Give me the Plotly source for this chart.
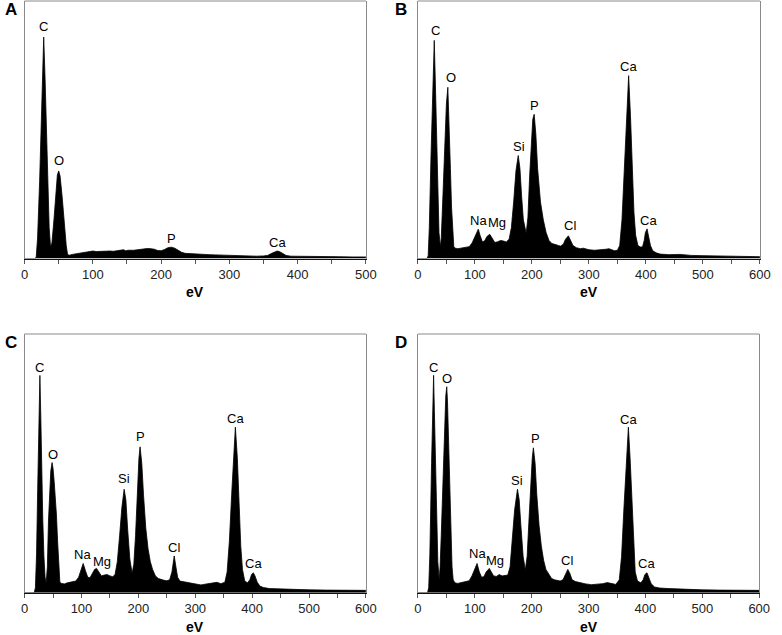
import plotly.graph_objects as go

# ---------------- data (eV, relative intensity in % of panel height) ----------------
a_ev = [0, 15, 17, 19, 22, 25, 28, 30, 32, 34, 36, 38, 40, 43, 46, 48, 50, 52, 55, 58, 61, 63,
        66, 70, 75, 80, 85, 90, 95, 100, 105, 110, 115, 120, 125, 130, 135, 140, 145, 148, 152,
        160, 165, 170, 175, 180, 185, 190, 195, 200, 205, 210, 215, 220, 225, 230, 235, 240,
        250, 260, 270, 280, 290, 300, 310, 320, 330, 340, 350, 356, 362, 366, 370, 374, 378,
        383, 390, 400, 410, 420, 440, 460, 480, 500]
a_int = [0, 0, 0.5, 8, 30, 60, 86, 70, 48, 28, 12, 4.5, 6, 15, 27, 32.5, 34, 32, 24, 14, 5, 1.5,
         1.3, 1.6, 1.8, 2.0, 2.2, 2.4, 2.6, 2.9, 2.7, 2.8, 2.7, 3.0, 2.9, 2.8, 3.0, 3.1, 3.4, 3.0, 3.2,
         3.2, 3.4, 3.6, 3.8, 3.9, 3.8, 3.6, 3.1, 3.0, 3.5, 4.2, 4.4, 4.0, 3.2, 2.4, 2.0, 1.9,
         1.8, 1.6, 1.5, 1.4, 1.3, 1.2, 1.1, 1.1, 1.0, 0.9, 1.0, 1.2, 2.0, 2.6, 2.9, 2.6, 2.0,
         1.2, 0.9, 0.9, 0.8, 0.8, 0.7, 0.7, 0.6, 0.6]

b_ev = [0, 16, 18, 20, 23, 26, 28.7, 31, 33, 35, 37, 39.5, 41, 44, 47, 50, 52.5, 55, 57, 59, 61, 63,
        66, 70, 75, 80, 85, 90, 95, 100, 103, 106, 109, 113, 117, 121, 126, 130, 135, 140, 145,
        150, 155, 160, 164, 168, 172, 176, 179, 182, 185, 190, 193, 196, 199, 201.5, 204, 207,
        210, 215, 220, 225, 230, 235, 240, 245, 250, 255, 259, 264, 268, 272, 278, 285, 290,
        300, 310, 320, 330, 335, 340, 345, 350, 354, 358, 362, 366, 369.7, 373, 376, 379, 382,
        386, 390, 394, 397, 399, 402, 405, 408, 412, 418, 425, 440, 460, 480, 500, 520, 540,
        560, 580, 600]
b_int = [0, 0, 1, 12, 40, 70, 84.7, 65, 45, 25, 10, 4.5, 8, 25, 45, 60, 66.5, 52, 35, 20, 9, 4.5,
         4.0, 3.8, 4.0, 4.2, 4.3, 4.6, 6.0, 8.5, 10.5, 11.4, 9.0, 6.5, 6.8, 8.5, 9.4, 8.0, 6.2, 6.5, 7.0,
         6.8, 6.4, 7.5, 12, 22, 34, 40, 35, 24, 15, 9.8, 16, 32, 47, 54, 56, 48,
         35, 22, 15, 10, 7, 5.8, 5.5, 5.0, 4.8, 5.5, 7.5, 8.8, 7.0, 5.0, 4.2, 3.8, 4.0,
         3.4, 3.2, 3.3, 3.6, 3.8, 3.4, 3.0, 3.2, 5, 15, 35, 57, 71, 55, 35, 18, 9,
         5, 4.5, 4.5, 7, 10, 11.5, 8, 5, 3, 2.2, 1.7, 1.5, 1.6, 1.2, 1.1, 1.0, 0.9,
         0.8, 0.8, 0.7]

c_ev = [0, 17, 19, 21, 23, 25, 26.9, 28.5, 30, 32, 34, 36, 38, 40, 42, 44, 46, 48.3, 50, 52, 54, 56,
        58, 60, 62, 65, 70, 75, 80, 85, 90, 95, 99, 103, 107, 111, 115, 119, 123, 126.5, 130, 135,
        140, 145, 150, 155, 159, 163, 167, 171, 175, 178, 181, 185, 189, 192, 195, 198, 201, 203,
        206, 209, 213, 217, 221, 225, 230, 235, 240, 245, 250, 255, 259, 263, 266, 269, 273, 280,
        290, 300, 310, 320, 330, 338, 345, 352, 356, 360, 364, 367, 370.5, 374, 377, 380, 383,
        387, 392, 396, 399, 402, 405, 409, 414, 420, 430, 450, 470, 500, 530, 560, 600]
c_int = [0, 0, 2, 15, 40, 65, 84, 68, 48, 28, 14, 6, 3.8, 10, 28, 40, 47, 50.3, 48, 43, 38, 30,
         20, 10, 4, 3.6, 3.4, 3.8, 4.0, 4.2, 4.5, 6.0, 9.0, 11.3, 8.5, 6.0, 5.8, 7.5, 9.0, 9.4, 8.0, 6.5,
         6.8, 7.0, 6.5, 6.2, 7.0, 12, 22, 33, 40, 36, 25, 13, 7.5, 11, 22, 38, 52, 56.4,
         50, 38, 25, 17, 12, 9, 6.5, 5.5, 5.0, 4.8, 4.6, 5.0, 8.0, 14.2, 10, 6, 4.5, 4.2,
         3.8, 3.4, 3.0, 3.4, 3.8, 4.0, 3.5, 4.0, 8, 20, 38, 52, 64, 52, 35, 18, 9,
         4.5, 3.8, 5.0, 7.0, 7.7, 6.5, 4.0, 2.5, 2.0, 1.6, 1.4, 1.2, 1.1, 1.0, 1.0, 0.9]

d_ev = [0, 17, 19, 21, 24, 26, 27.6, 29, 31, 33, 35, 37.4, 39, 41, 44, 47, 49, 50.7, 52, 54, 56, 58,
        60, 62, 65, 70, 75, 80, 85, 90, 95, 100, 104, 108, 112, 116, 120, 125.5, 129, 133, 138,
        143, 148, 153, 158, 162, 166, 170, 175, 178, 181, 185, 188.8, 192, 195, 198, 201, 203,
        206, 209, 213, 217, 221, 225, 230, 235, 240, 245, 250, 255, 259, 263.5, 267, 271, 277,
        285, 295, 305, 315, 325, 333, 340, 348, 354, 358, 362, 366, 370, 373, 376, 379, 382,
        386, 392, 396, 399, 402.7, 406, 410, 416, 425, 440, 460, 480, 500, 530, 560, 600]
d_int = [0, 0, 2, 15, 50, 72, 84, 70, 48, 28, 12, 5.0, 10, 22, 42, 65, 76, 79.6, 74, 58, 40, 22,
         10, 5, 3.8, 3.6, 3.8, 4.0, 4.3, 4.6, 6.5, 9.5, 11.3, 8.0, 6.0, 6.2, 8.0, 9.4, 8.0, 6.5, 6.3,
         7.0, 6.5, 6.6, 6.8, 10, 20, 32, 40, 36, 26, 14, 8.8, 14, 27, 42, 52, 56,
         50, 38, 26, 18, 12.5, 9, 7, 5.5, 5.0, 4.6, 4.5, 5.0, 7.0, 9.0, 7.5, 5.0, 4.3,
         3.8, 3.4, 3.1, 3.2, 3.5, 3.9, 3.5, 3.2, 5, 14, 32, 50, 64, 52, 35, 18, 8,
         4.5, 3.8, 5.0, 7.0, 7.7, 6.0, 3.5, 2.2, 1.8, 1.6, 1.4, 1.2, 1.1, 1.0, 0.9, 0.9]

# peak labels: element names and the peak position (eV) they mark
a_labels = ["C", "O", "P", "Ca"]
a_peaks = [28, 50, 215, 370]
b_labels = ["C", "O", "Na", "Mg", "Si", "P", "Cl", "Ca", "Ca"]
b_peaks = [28.7, 52.5, 106, 126, 176, 204, 264, 369.7, 402]
c_labels = ["C", "O", "Na", "Mg", "Si", "P", "Cl", "Ca", "Ca"]
c_peaks = [26.9, 48.3, 103, 126.5, 175, 203, 263, 370.5, 402]
d_labels = ["C", "O", "Na", "Mg", "Si", "P", "Cl", "Ca", "Ca"]
d_peaks = [27.6, 50.7, 104, 125.5, 175, 203, 263.5, 370, 402.7]

panel_names = ["A", "B", "C", "D"]
x_max = [500, 600, 600, 600]
x_ticks_major = 100
x_ticks_minor = 50
x_title = "eV"

# ---------------- styling / layout (pixels) ----------------
W, H = 782, 635
boxes = [  # left, right, top, bottom in px
    (21, 369, 1, 258.5),
    (422, 770.7, 1, 258.5),
    (21, 369, 334, 592.7),
    (422, 770, 334, 592.7),
]
label_xshift = [
    [0, 0, 0, 0],
    [1, 3, 0, 7, 1, 0, 2, 0, 1],
    [0, 1, -1, 5, 0, 0, 0, 0, 0],
    [0, 0, 0, 6, 0, 2, -1, 0, 0],
]
label_yshift = [
    [11, 10, 9, 9],
    [10, 10, 9, 12, 9, 9, 10, 9, 8],
    [8, 8, 9, 7, 11, 10, 8, 9, 9],
    [8, 8, 10, 8, 9, 9, 9, 8, 9],
]
panel_letter_pos = [(7, 9), (405, 10), (7, 343), (405, 343)]

FONT = "Liberation Sans, Arial, Helvetica, sans-serif"
series = [(a_ev, a_int), (b_ev, b_int), (c_ev, c_int), (d_ev, d_int)]
labels = [(a_labels, a_peaks), (b_labels, b_peaks), (c_labels, c_peaks), (d_labels, d_peaks)]

fig = go.Figure()
layout = dict(
    width=W, height=H, margin=dict(l=0, r=0, t=0, b=0),
    paper_bgcolor="white", plot_bgcolor="white", showlegend=False,
    font=dict(family=FONT, size=13, color="#111"),
)
annotations = []
shapes = []

for i in range(4):
    sfx = "" if i == 0 else str(i + 1)
    xa, ya = "x" + sfx, "y" + sfx
    l, r, t, b = boxes[i]
    xs, ys = series[i]
    fig.add_trace(go.Scatter(
        x=xs, y=ys, mode="lines", xaxis=xa, yaxis=ya,
        line=dict(color="black", width=0.8), fill="tozeroy", fillcolor="black",
        hoverinfo="skip",
    ))
    layout["xaxis" + sfx] = dict(
        domain=[l / W, r / W], anchor=ya, range=[0, x_max[i]],
        tickmode="linear", tick0=0, dtick=x_ticks_major,
        ticks="outside", ticklen=4, tickcolor="#555", tickwidth=1,
        minor=dict(dtick=x_ticks_minor, ticks="outside", ticklen=4, tickcolor="#555"),
        showline=True, linecolor="#111", linewidth=1, mirror=False,
        showgrid=False, zeroline=False,
        tickfont=dict(family=FONT, size=13, color="#222"),
    )
    layout["yaxis" + sfx] = dict(
        domain=[1 - b / H, 1 - t / H], anchor=xa, range=[0, 100],
        showticklabels=False, ticks="", showgrid=False, zeroline=False,
        showline=True, linecolor="#8a8a8a", linewidth=1, mirror=True,
    )
    # top frame line
    shapes.append(dict(type="line", xref=xa + " domain", yref=ya + " domain",
                       x0=0, x1=1, y0=1, y1=1, line=dict(color="#8a8a8a", width=1)))
    # peak labels
    names, peaks = labels[i]
    for j, (nm, px) in enumerate(zip(names, peaks)):
        near = [yv for xv, yv in zip(xs, ys) if abs(xv - px) <= 1.5]
        py = max(near) if near else 0
        annotations.append(dict(
            x=px, y=py, xref=xa, yref=ya, text=nm, showarrow=False,
            xanchor="center", yanchor="middle",
            xshift=label_xshift[i][j], yshift=label_yshift[i][j],
            font=dict(family=FONT, size=13, color="black"),
        ))
    # x-axis title
    annotations.append(dict(
        x=0.5, y=0, xref=xa + " domain", yref=ya + " domain", text="<b>%s</b>" % x_title,
        showarrow=False, xanchor="center", yanchor="middle", yshift=-34, borderpad=0,
        font=dict(family=FONT, size=14, color="black"),
    ))
    # panel letter
    lx, ly = panel_letter_pos[i]
    annotations.append(dict(
        x=lx / W, y=1 - ly / H, xref="paper", yref="paper", text="<b>%s</b>" % panel_names[i],
        showarrow=False, xanchor="center", yanchor="middle",
        font=dict(family=FONT, size=17, color="black"),
    ))

layout["annotations"] = annotations
layout["shapes"] = shapes
fig.update_layout(**layout)
fig.write_html(
    "out.html",
    config={"displayModeBar": False},
    post_script="document.body.style.margin='0';document.body.style.padding='0';"
                "document.body.style.overflow='hidden';",
)
